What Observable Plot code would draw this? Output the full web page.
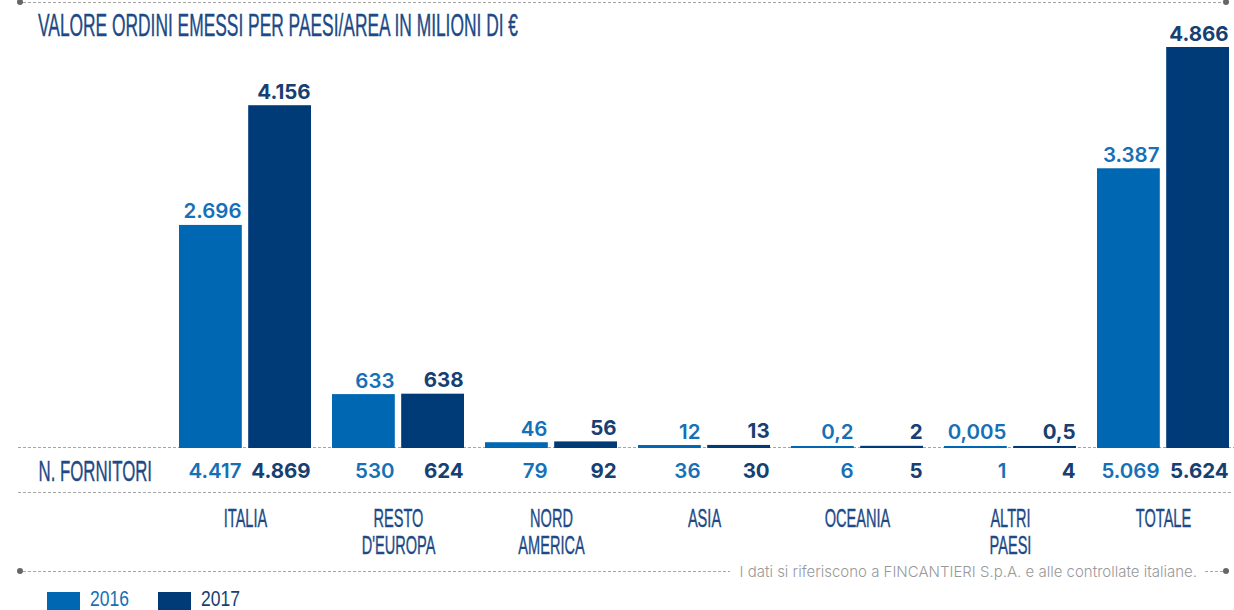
<!DOCTYPE html>
<html>
<head>
<meta charset="utf-8">
<script src="https://cdn.jsdelivr.net/npm/d3@7"></script>
<script src="https://cdn.jsdelivr.net/npm/@observablehq/plot@0.6"></script>
<style>
  html, body { margin: 0; padding: 0; background: #fff; }
  #page { position: relative; width: 1234px; height: 610px; overflow: hidden; font-family: Inter, "Open Sans", sans-serif; }
  .cond { position: absolute; font-family: "Liberation Sans", Arial, sans-serif; white-space: nowrap; transform-origin: 0 0; line-height: 1; }
  #title { left: 38px; top: 10px; font-size: 31px; color: #1d4a86; -webkit-text-stroke: 0.4px #1d4a86; }
  #chart { position: absolute; left: 0; top: 0; }
  .dashline { height: 1px; background: repeating-linear-gradient(to right, #a5a5a5 0 3px, transparent 3px 5px); }
  .dot { width: 6px; height: 6px; border-radius: 50%; background: #666; flex: none; }
  #topline { position: absolute; left: 17px; top: -1px; width: 1212px; height: 6px; display: flex; align-items: center; }
  #footer { position: absolute; left: 17px; top: 565px; width: 1212px; height: 12px; display: flex; align-items: center; }
  #footer .note { font-size: 15px; color: #999; margin: 0 8px 0 10px; font-weight: 300; white-space: nowrap; }
  #legend { position: absolute; left: 47px; top: 592px; display: flex; align-items: flex-start; }
  .sw { width: 33px; height: 18px; flex: none; }
  .lg { position: relative; height: 16px; }
  .lg span { position: absolute; left: 0; top: -1px; font-family: "Liberation Sans", Arial, sans-serif; font-size: 22px; line-height: 16px; height: 16px; transform-origin: 0 0; white-space: nowrap; }
</style>
</head>
<body>
<div id="page">
  <div id="topline"><div class="dot"></div><div class="dashline" style="flex:1"></div><div class="dot"></div></div>
  <div id="chart"></div>
  <div id="title" class="cond">VALORE ORDINI EMESSI PER PAESI/AREA IN MILIONI DI €</div>
  <div id="footer">
    <div class="dot"></div><div class="dashline" style="flex:1"></div>
    <div class="note">I dati si riferiscono a FINCANTIERI S.p.A. e alle controllate italiane.</div>
    <div class="dashline" style="width:18px"></div><div class="dot"></div>
  </div>
  <div id="legend"></div>
</div>
<script>
// Areas and values (orders in millions of euro, number of suppliers)
const areas = ["ITALIA", "RESTO\nD'EUROPA", "NORD\nAMERICA", "ASIA", "OCEANIA", "ALTRI\nPAESI", "TOTALE"];
const years = ["2016", "2017"];
const orders2016 = [2696, 633, 46, 12, 0.2, 0.005, 3387];
const orders2017 = [4156, 638, 56, 13, 2, 0.5, 4866];
const suppliers2016 = [4417, 530, 79, 36, 6, 1, 5069];
const suppliers2017 = [4869, 624, 92, 30, 5, 4, 5624];
const suppliersLabel = "N. FORNITORI";

const barColors = ["#0068b3", "#003a77"];
const textColors = ["#1670b6", "#173f72"];
const navy = "#1d4a86";

const rows = years.map((year, k) => areas.map((area, i) => ({
  area, year,
  orders: (k ? orders2017 : orders2016)[i],
  suppliers: (k ? suppliers2017 : suppliers2016)[i]
})));

// Italian number formatting: "4.156", "0,005"
const it = d3.formatLocale({decimal: ",", thousands: ".", grouping: [3], currency: ["", " €"]});
const fmt = it.format(",~f");

// Layout
const W = 1234, H = 560, baseY = 447, topY = 48;
const mL = 176, mR = 2, pad = 0.14, gap = 6;
const step = (W - mL - mR) / (areas.length - pad);
const bw = step * (1 - pad);
const barW = (bw - gap) / 2;
const dxRight = [-gap / 2 - 1, bw / 2 - 1];
const condFont = "'Liberation Sans', Arial, sans-serif";

const valueText = (k) => Plot.text(rows[k], {
  x: "area", y: "orders", text: d => fmt(d.orders),
  textAnchor: "end", lineAnchor: "bottom", dx: dxRight[k], dy: -8,
  fill: textColors[k], fontSize: 20.5, fontWeight: k ? 700 : 600
});
const supplierText = (k) => Plot.text(rows[k], {
  x: "area", text: d => fmt(d.suppliers), frameAnchor: "bottom",
  textAnchor: "end", lineAnchor: "bottom", dx: dxRight[k], dy: 30,
  fill: textColors[k], fontSize: 20.5, fontWeight: k ? 700 : 600
});
const bars = (k) => Plot.barY(rows[k], {
  x: "area", y: "orders", fill: barColors[k], stroke: barColors[k], strokeWidth: 2,
  insetLeft: k ? bw - barW + 1 : 1, insetRight: k ? 1 : bw - barW + 1
});
const dashed = {stroke: "#a5a5a5", strokeDasharray: "3,2", strokeWidth: 1};

const chart = Plot.plot({
  width: W, height: H,
  marginLeft: mL, marginRight: mR, marginTop: topY, marginBottom: H - baseY,
  style: {background: "transparent", overflow: "visible", fontFamily: "Inter, 'Open Sans', sans-serif"},
  x: {domain: areas, paddingInner: pad, paddingOuter: 0, axis: null},
  y: {domain: [0, 4866], axis: null},
  marks: [
    Plot.ruleY([0], {...dashed, insetLeft: -(mL - 18), insetRight: -mR}),
    Plot.ruleY([0], {...dashed, dy: 45, insetLeft: -(mL - 18), insetRight: 0}),
    bars(0), bars(1),
    valueText(0), valueText(1),
    supplierText(0), supplierText(1),
    Plot.text([suppliersLabel], {
      text: d => d, frameAnchor: "bottom-left", textAnchor: "start", lineAnchor: "bottom",
      dx: 38 - mL, dy: 33, fill: navy, stroke: navy, strokeWidth: 0.4, fontSize: 30,
      fontFamily: condFont, ariaDescription: "condensed"
    }),
    Plot.text(areas, {
      x: d => d, text: d => d, frameAnchor: "bottom", lineAnchor: "top", lineHeight: 1.05,
      dy: 60, fill: navy, stroke: navy, strokeWidth: 0.4, fontSize: 26,
      fontFamily: condFont, ariaDescription: "condensed"
    })
  ]
});
document.getElementById("chart").appendChild(chart);

// Condensed lettering: squeeze the title to its width and reuse the same ratio
const title = document.getElementById("title");
const squeeze = 480 / title.getBoundingClientRect().width;
title.style.transform = `scaleX(${squeeze})`;

d3.select(chart).selectAll('g[aria-description="condensed"] text').each(function() {
  const t = this.getAttribute("transform");
  if (t) this.setAttribute("transform", `${t} scale(${squeeze},1)`);
  else {
    const x = +this.getAttribute("x") || 0, y = +this.getAttribute("y") || 0;
    this.removeAttribute("x"); this.removeAttribute("y");
    this.setAttribute("transform", `translate(${x},${y}) scale(${squeeze},1)`);
  }
});

// Legend
const legend = d3.select("#legend");
years.forEach((y, k) => {
  legend.append("div").attr("class", "sw").style("background", barColors[k]);
  const span = legend.append("div").attr("class", "lg").style("margin-left", "10px").style("width", k ? "40px" : "68px")
    .append("span").text(y).style("color", textColors[k]);
  const w = span.node().getBoundingClientRect().width;
  span.style("transform", `scaleX(${39 / w})`);
});
</script>
</body>
</html>
